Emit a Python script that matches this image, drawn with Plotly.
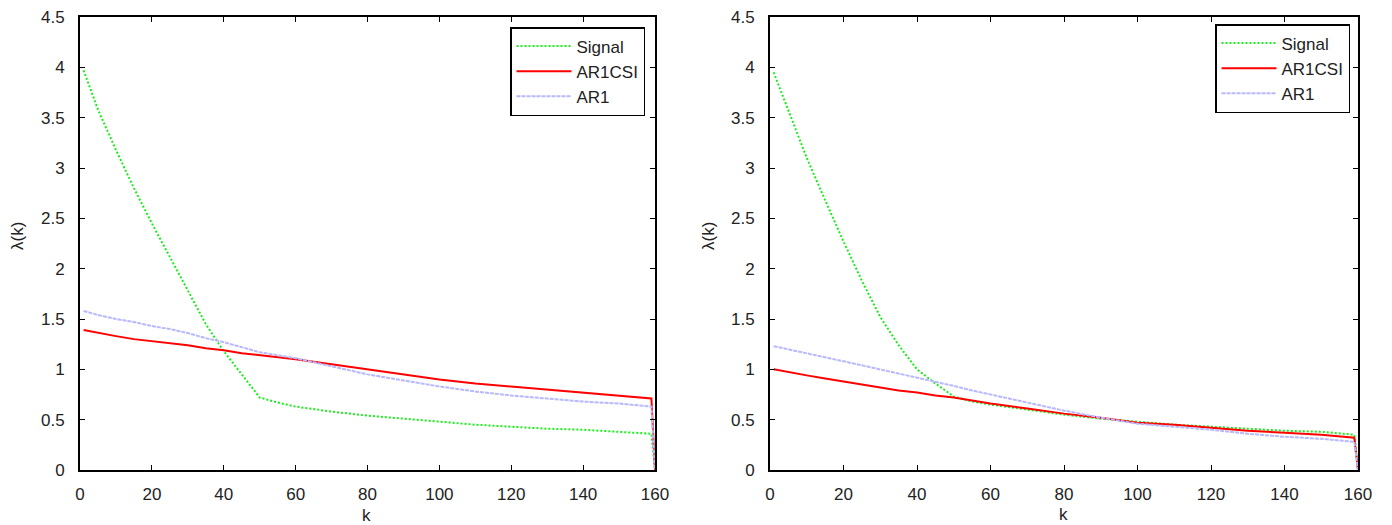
import plotly.graph_objects as go

# eigen-index axis
k = [1, 5, 10, 15, 20, 25, 30, 35, 40, 45, 50, 55, 60, 70, 80, 90, 100,
     110, 120, 130, 140, 150, 159, 160]

# left panel eigenvalue profiles
left_signal = [3.97, 3.58, 3.18, 2.80, 2.45, 2.12, 1.78, 1.45, 1.18, 0.95, 0.72, 0.67,
               0.63, 0.58, 0.54, 0.51, 0.48, 0.45, 0.43, 0.41, 0.40, 0.38, 0.36, 0.0]
left_ar1csi = [1.39, 1.36, 1.33, 1.30, 1.28, 1.26, 1.24, 1.21, 1.19, 1.16, 1.14, 1.12,
               1.10, 1.05, 1.00, 0.95, 0.90, 0.86, 0.83, 0.80, 0.77, 0.74, 0.71, 0.0]
left_ar1 = [1.58, 1.54, 1.50, 1.47, 1.43, 1.40, 1.36, 1.31, 1.27, 1.22, 1.17, 1.14,
            1.11, 1.03, 0.95, 0.89, 0.83, 0.78, 0.74, 0.71, 0.68, 0.66, 0.63, 0.0]

# right panel eigenvalue profiles
right_signal = [3.95, 3.58, 3.10, 2.68, 2.27, 1.88, 1.52, 1.24, 1.00, 0.86, 0.73, 0.68,
                0.65, 0.60, 0.55, 0.51, 0.48, 0.45, 0.43, 0.41, 0.39, 0.38, 0.35, 0.0]
right_ar1csi = [1.00, 0.97, 0.94, 0.91, 0.88, 0.85, 0.82, 0.79, 0.77, 0.74, 0.72, 0.69,
                0.66, 0.61, 0.56, 0.52, 0.47, 0.45, 0.42, 0.39, 0.37, 0.35, 0.32, 0.0]
right_ar1 = [1.23, 1.20, 1.16, 1.12, 1.08, 1.04, 1.00, 0.96, 0.92, 0.875, 0.835, 0.79,
             0.75, 0.67, 0.59, 0.52, 0.46, 0.43, 0.40, 0.36, 0.33, 0.31, 0.28, 0.0]

x_ticks = [0, 20, 40, 60, 80, 100, 120, 140, 160]
y_ticks = [0, 0.5, 1, 1.5, 2, 2.5, 3, 3.5, 4, 4.5]

W, H = 1392, 525
FONT = "Liberation Sans, Arial, sans-serif"
TXT = "#222"

series_style = [
    ("Signal", dict(color="#18ee18", width=2, dash="2px,2px")),
    ("AR1CSI", dict(color="#ff0000", width=2)),
    ("AR1", dict(color="#b8b8ff", width=2, dash="4px,1px")),
]

fig = go.Figure()
panels = [
    ("x", "y", "legend", [left_signal, left_ar1csi, left_ar1]),
    ("x2", "y2", "legend2", [right_signal, right_ar1csi, right_ar1]),
]
for xa, ya, lg, data in panels:
    for (name, style), vals in zip(series_style, data):
        fig.add_trace(go.Scatter(x=k, y=vals, mode="lines", name=name,
                                 line=style, xaxis=xa, yaxis=ya, legend=lg))

axis_common = dict(
    showline=True, linecolor="black", linewidth=2, mirror="ticks",
    ticks="inside", ticklen=5, tickwidth=1, tickcolor="black",
    showgrid=False, zeroline=False, automargin=False,
    tickfont=dict(family=FONT, size=17, color=TXT),
)


def px_x(p):
    return p / W


def px_y(p):
    return 1 - p / H


ydom = [px_y(470), px_y(17)]
legend_common = dict(xanchor="right", yanchor="top", bgcolor="white",
                     bordercolor="black", borderwidth=1.5,
                     font=dict(size=17, family=FONT, color=TXT),
                     tracegroupgap=0, itemwidth=55)

fig.update_layout(
    width=W, height=H,
    margin=dict(l=0, r=0, t=0, b=0),
    paper_bgcolor="white", plot_bgcolor="white",
    font=dict(family=FONT, size=17, color=TXT),
    xaxis=dict(domain=[px_x(80), px_x(655)], range=[0, 160], tickvals=x_ticks,
               anchor="y", ticklabelstandoff=8, **axis_common),
    yaxis=dict(domain=ydom, range=[0, 4.5], tickvals=y_ticks, anchor="x",
               ticklabelstandoff=10, **axis_common),
    xaxis2=dict(domain=[px_x(770), px_x(1358)], range=[0, 160], tickvals=x_ticks,
                anchor="y2", ticklabelstandoff=8, **axis_common),
    yaxis2=dict(domain=ydom, range=[0, 4.5], tickvals=y_ticks, anchor="x2",
                ticklabelstandoff=10, **axis_common),
    legend=dict(x=px_x(645), y=px_y(27), **legend_common),
    legend2=dict(x=px_x(1350), y=px_y(24), **legend_common),
    showlegend=True,
)

# axis titles
titles = [
    dict(text="k", x=px_x(367), y=px_y(515), textangle=0),
    dict(text="k", x=px_x(1063), y=px_y(514), textangle=0),
    dict(text="λ(k)", x=px_x(17), y=px_y(236), textangle=-90),
    dict(text="λ(k)", x=px_x(708), y=px_y(236), textangle=-90),
]
for t in titles:
    fig.add_annotation(xref="paper", yref="paper", showarrow=False,
                       xanchor="center", yanchor="middle",
                       font=dict(family=FONT, size=17, color=TXT), **t)

fig.write_html("out.html")
